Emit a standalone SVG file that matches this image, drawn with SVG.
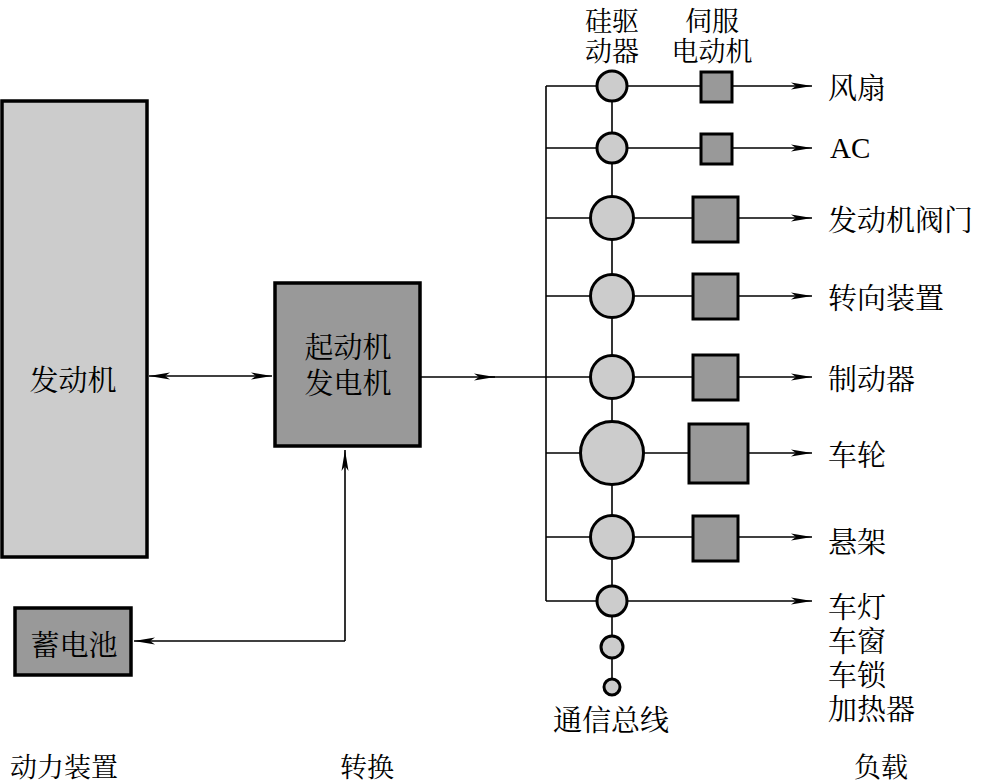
<svg xmlns="http://www.w3.org/2000/svg" width="983" height="784" viewBox="0 0 983 784">
<style>
text{font-family:"Noto Serif CJK SC","Noto Sans CJK SC",serif;font-size:29px;fill:#000;dominant-baseline:central}
.lab{text-anchor:start}
.mid{text-anchor:middle}
.hd{font-size:27px}
.big{fill:#cccccc;stroke:#000;stroke-width:3.5}
.dark{fill:#999999;stroke:#000;stroke-width:3.5}
.drv{fill:#cccccc;stroke:#000;stroke-width:3}
.srv{fill:#999999;stroke:#000;stroke-width:3}
.ln{fill:none;stroke:#000;stroke-width:1.6}
.ar{fill:none;stroke:#000;stroke-width:1.6;marker-end:url(#ah)}
</style>
<defs>
<marker id="ah" markerWidth="22" markerHeight="10" refX="21" refY="4" orient="auto-start-reverse" markerUnits="userSpaceOnUse">
<path d="M0,0.5 L21,4 L0,7.5 L5,4 z" fill="#000"/>
</marker>
</defs>

<g id="engine">
<rect class="big" x="2" y="101" width="145" height="456"/>
<text class="mid" x="73" y="378">发动机</text>
</g>
<g id="starter-generator">
<rect class="dark" x="275" y="283" width="145" height="163"/>
<text class="mid" x="348" y="345">起动机</text>
<text class="mid" x="348" y="381">发电机</text>
</g>
<g id="battery">
<rect class="dark" x="15" y="608" width="116" height="67"/>
<text class="mid" x="74" y="643">蓄电池</text>
</g>

<g id="connectors">
<line class="ln" x1="149" y1="376" x2="272" y2="376" marker-start="url(#ah)" marker-end="url(#ah)"/>
<line class="ln" x1="345" y1="641" x2="345" y2="450" marker-end="url(#ah)"/>
<line class="ln" x1="345" y1="641" x2="134" y2="641" marker-end="url(#ah)"/>
<line class="ln" x1="421" y1="377" x2="495" y2="377" marker-end="url(#ah)"/>
<line class="ln" x1="490" y1="377" x2="546" y2="377"/>
<line class="ln" x1="546" y1="86" x2="546" y2="601"/>
<line class="ln" x1="612" y1="86" x2="612" y2="687"/>
<line class="ar" x1="546" y1="86" x2="812" y2="86"/>
<line class="ar" x1="546" y1="148" x2="812" y2="148"/>
<line class="ar" x1="546" y1="218" x2="812" y2="218"/>
<line class="ar" x1="546" y1="296" x2="812" y2="296"/>
<line class="ar" x1="546" y1="377" x2="812" y2="377"/>
<line class="ar" x1="546" y1="453" x2="812" y2="453"/>
<line class="ar" x1="546" y1="537" x2="812" y2="537"/>
<line class="ar" x1="546" y1="601" x2="812" y2="601"/>
</g>

<g id="row-fan">
<circle class="drv" cx="612" cy="86" r="15"/>
<rect class="srv" x="701" y="72" width="31" height="30"/>
<text class="lab" x="828" y="86">风扇</text>
</g>
<g id="row-ac">
<circle class="drv" cx="612" cy="148" r="15"/>
<rect class="srv" x="701" y="134" width="31" height="30"/>
<text class="lab" x="830" y="148" style="font-family:'Liberation Serif',serif">AC</text>
</g>
<g id="row-valve">
<circle class="drv" cx="612" cy="218" r="21.5"/>
<rect class="srv" x="693" y="197" width="45" height="45"/>
<text class="lab" x="828" y="218">发动机阀门</text>
</g>
<g id="row-steer">
<circle class="drv" cx="612" cy="296" r="21.5"/>
<rect class="srv" x="693" y="274" width="45" height="45"/>
<text class="lab" x="828" y="296">转向装置</text>
</g>
<g id="row-brake">
<circle class="drv" cx="612" cy="377" r="21.5"/>
<rect class="srv" x="693" y="355" width="45" height="45"/>
<text class="lab" x="828" y="377">制动器</text>
</g>
<g id="row-wheel">
<circle class="drv" cx="612" cy="453" r="31.5"/>
<rect class="srv" x="689" y="424" width="59" height="59"/>
<text class="lab" x="828" y="453">车轮</text>
</g>
<g id="row-susp">
<circle class="drv" cx="612" cy="537" r="21.5"/>
<rect class="srv" x="693" y="516" width="45" height="45"/>
<text class="lab" x="828" y="540">悬架</text>
</g>
<g id="row-misc">
<circle class="drv" cx="612" cy="601" r="15"/>
<text class="lab" x="828" y="605">车灯</text>
<text class="lab" x="828" y="639">车窗</text>
<text class="lab" x="828" y="673">车锁</text>
<text class="lab" x="828" y="707">加热器</text>
</g>
<g id="bus-end">
<circle class="drv" cx="612" cy="647" r="11"/>
<circle class="drv" cx="612" cy="687" r="8"/>
<text class="mid" x="611" y="718">通信总线</text>
</g>

<g id="headers">
<text class="mid hd" x="612" y="19">硅驱</text>
<text class="mid hd" x="612" y="49">动器</text>
<text class="mid hd" x="712" y="19">伺服</text>
<text class="mid hd" x="712" y="49">电动机</text>
<text class="mid hd" x="64" y="765">动力装置</text>
<text class="mid hd" x="367" y="765">转换</text>
<text class="mid hd" x="881" y="765">负载</text>
</g>
</svg>
